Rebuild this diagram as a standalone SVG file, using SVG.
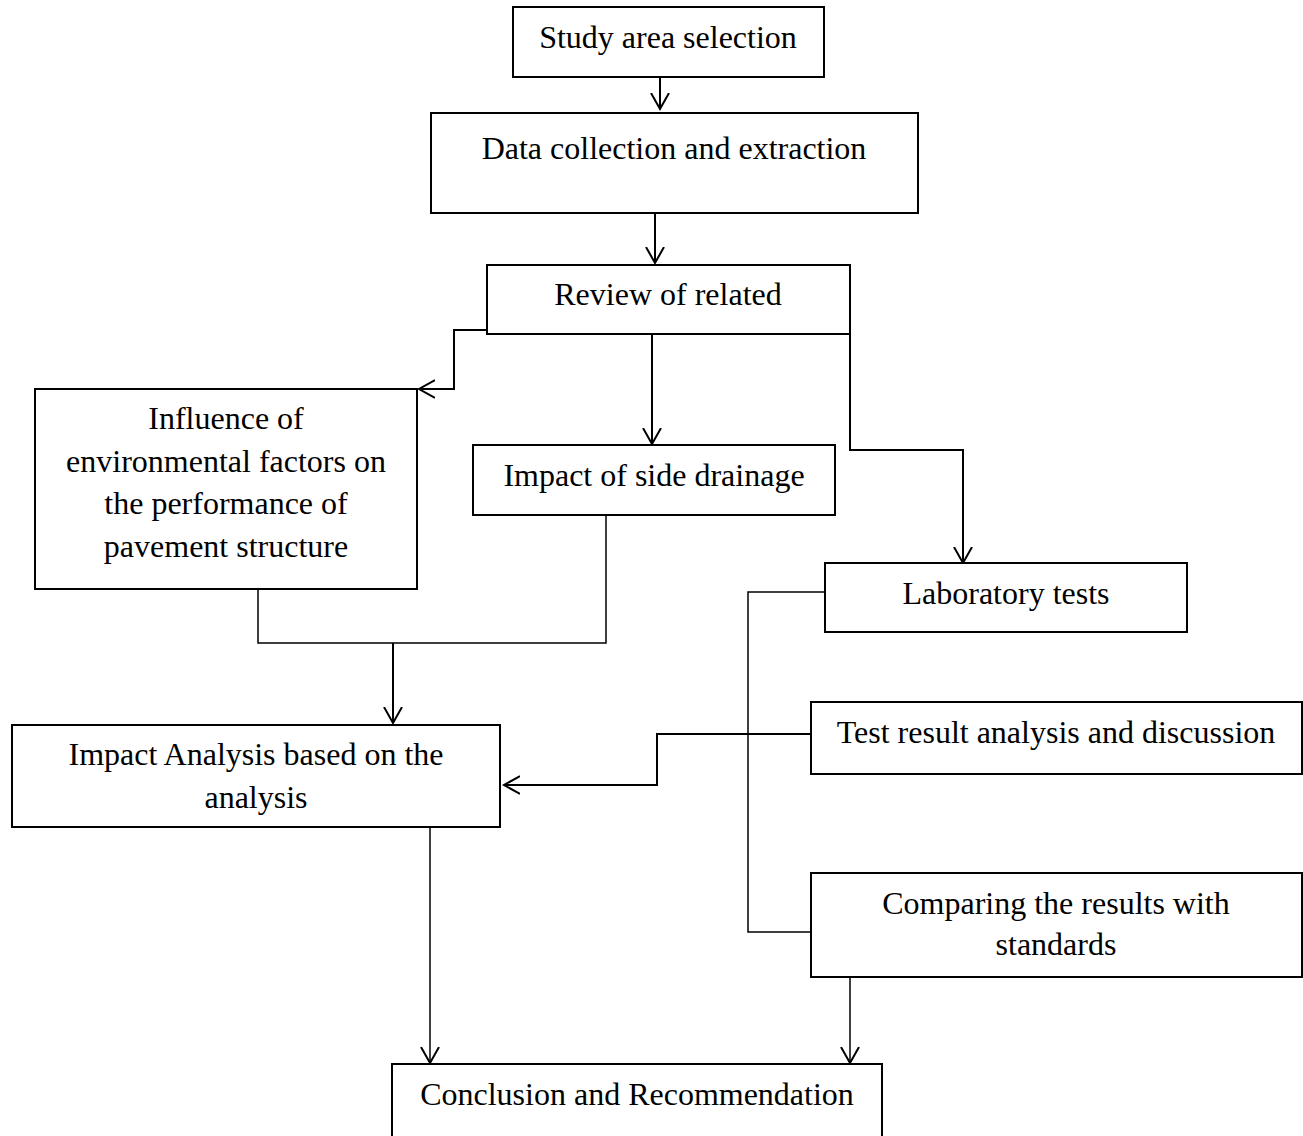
<svg xmlns="http://www.w3.org/2000/svg" width="1303" height="1136" viewBox="0 0 1303 1136">
<style>
.box{fill:#fff;stroke:#000;stroke-width:2}
.t{font-family:'Liberation Serif',serif;font-size:32px;fill:#000;text-anchor:middle}
.c{fill:none;stroke:#000;stroke-width:2}
.ct{fill:none;stroke:#000;stroke-width:1.5}
</style>
<defs>
<marker id="arr" markerUnits="userSpaceOnUse" markerWidth="30" markerHeight="30" refX="16" refY="10" orient="auto" viewBox="0 0 30 20">
<path d="M0,1 L16,10 L0,19" fill="none" stroke="#000" stroke-width="2"/>
</marker>
</defs>
<g id="connectors">
<path class="c" d="M660,77 V109" marker-end="url(#arr)"/>
<path class="c" d="M655,208 V263" marker-end="url(#arr)"/>
<path class="c" d="M487,330 H454 V389 H419" marker-end="url(#arr)"/>
<path class="c" d="M652,334 V444" marker-end="url(#arr)"/>
<path class="c" d="M850,334 V450 H963 V563" marker-end="url(#arr)"/>
<path class="ct" d="M258,589 V643 H606 V515"/>
<path class="c" d="M393,643 V723" marker-end="url(#arr)"/>
<path class="ct" d="M825,592 H748 V932 H811"/>
<path class="c" d="M811,734 H657 V785 H504" marker-end="url(#arr)"/>
<path class="ct" d="M430,827 V1063" marker-end="url(#arr)"/>
<path class="ct" d="M850,977 V1063" marker-end="url(#arr)"/>
</g>
<g id="n1"><rect class="box" x="513" y="7" width="311" height="70"/><text class="t" x="668" y="48">Study area selection</text></g>
<g id="n2"><rect class="box" x="431" y="113" width="487" height="100"/><text class="t" x="674" y="159">Data collection and extraction</text></g>
<g id="n3"><rect class="box" x="487" y="265" width="363" height="69"/><text class="t" x="668" y="305">Review of related</text></g>
<g id="n4"><rect class="box" x="35" y="389" width="382" height="200"/><text class="t" x="226" y="429">Influence of</text><text class="t" x="226" y="472">environmental factors on</text><text class="t" x="226" y="514">the performance of</text><text class="t" x="226" y="557">pavement structure</text></g>
<g id="n5"><rect class="box" x="473" y="445" width="362" height="70"/><text class="t" x="654" y="486">Impact of side drainage</text></g>
<g id="n6"><rect class="box" x="825" y="563" width="362" height="69"/><text class="t" x="1006" y="604">Laboratory tests</text></g>
<g id="n7"><rect class="box" x="12" y="725" width="488" height="102"/><text class="t" x="256" y="765">Impact Analysis based on the</text><text class="t" x="256" y="808">analysis</text></g>
<g id="n8"><rect class="box" x="811" y="702" width="491" height="72"/><text class="t" x="1056" y="743">Test result analysis and discussion</text></g>
<g id="n9"><rect class="box" x="811" y="873" width="491" height="104"/><text class="t" x="1056" y="914">Comparing the results with</text><text class="t" x="1056" y="955">standards</text></g>
<g id="n10"><rect class="box" x="392" y="1064" width="490" height="80"/><text class="t" x="637" y="1105">Conclusion and Recommendation</text></g>
</svg>
